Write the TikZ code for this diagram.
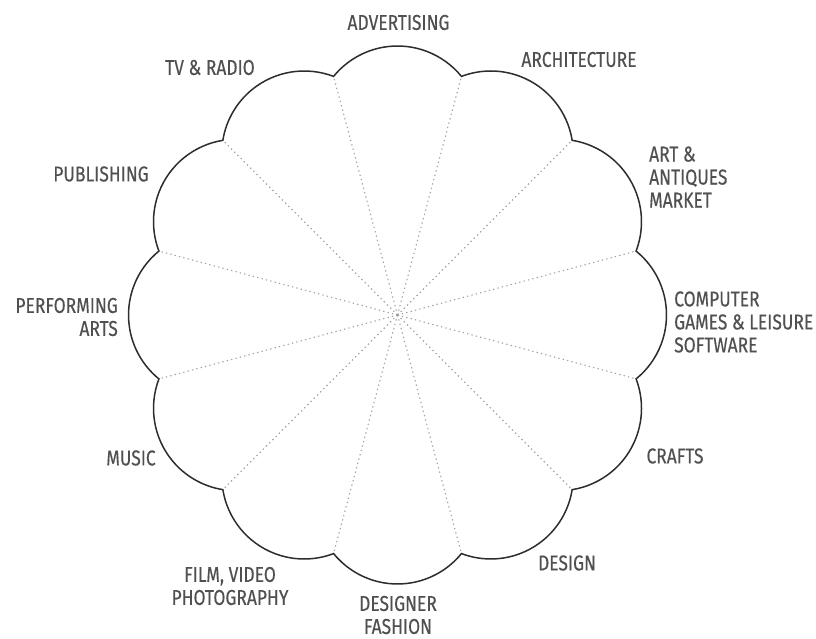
\documentclass[tikz,border=0pt]{standalone}
\usepackage{fontspec}
\setmainfont[FakeStretch=0.81, FakeBold=0.35]{Fira Sans}
\definecolor{labelgray}{RGB}{80,80,80}
\definecolor{linegray}{RGB}{45,45,45}
\definecolor{spokegray}{RGB}{160,160,160}
\begin{document}
\begin{tikzpicture}[x=1pt,y=1pt,
  lbl/.style={font=\fontsize{21.5}{23}\selectfont, text=labelgray, inner sep=0pt},
  outline/.style={draw=linegray, line width=1.5pt},
  spoke/.style={draw=spokegray, line width=1.1pt, dash pattern=on 1.3pt off 3.2pt}]
\useasboundingbox (0,0) rectangle (816,639);
\coordinate (c) at (397.5,324);
\foreach \i in {0,...,11} {
  \coordinate (k\i) at ([shift={({30*\i+15}:247)}]c);
}
\foreach \i in {0,...,11} { \draw[spoke] (c) -- (k\i); }
\draw[outline] (k11) \foreach \i in {0,...,11} {
  arc[start angle={30*\i-50.89}, end angle={30*\i+50.89}, radius=82.39] } -- cycle;
\node[lbl] (adv) at (398.5,616.5) {ADVERTISING};
\node[lbl] (tv) at (210,571.5) {TV \& RADIO};
\node[lbl] (arch) at (579,579.5) {ARCHITECTURE};
\node[lbl, anchor=west, align=left] (art) at (649,462) {ART \&\\ANTIQUES\\MARKET};
\node[lbl, anchor=west, align=left] (comp) at (674,317) {COMPUTER\\GAMES \& LEISURE\\SOFTWARE};
\node[lbl] (crafts) at (675,183) {CRAFTS};
\node[lbl] (design) at (567,76) {DESIGN};
\node[lbl, align=center] (fashion) at (398,24) {DESIGNER\\FASHION};
\node[lbl, align=center] (film) at (230,53) {FILM, VIDEO\\PHOTOGRAPHY};
\node[lbl] (music) at (131,181) {MUSIC};
\node[lbl, anchor=east, align=right] (perf) at (118,322) {PERFORMING\\ARTS};
\node[lbl] (pub) at (101,465) {PUBLISHING};
\end{tikzpicture}
\end{document}
